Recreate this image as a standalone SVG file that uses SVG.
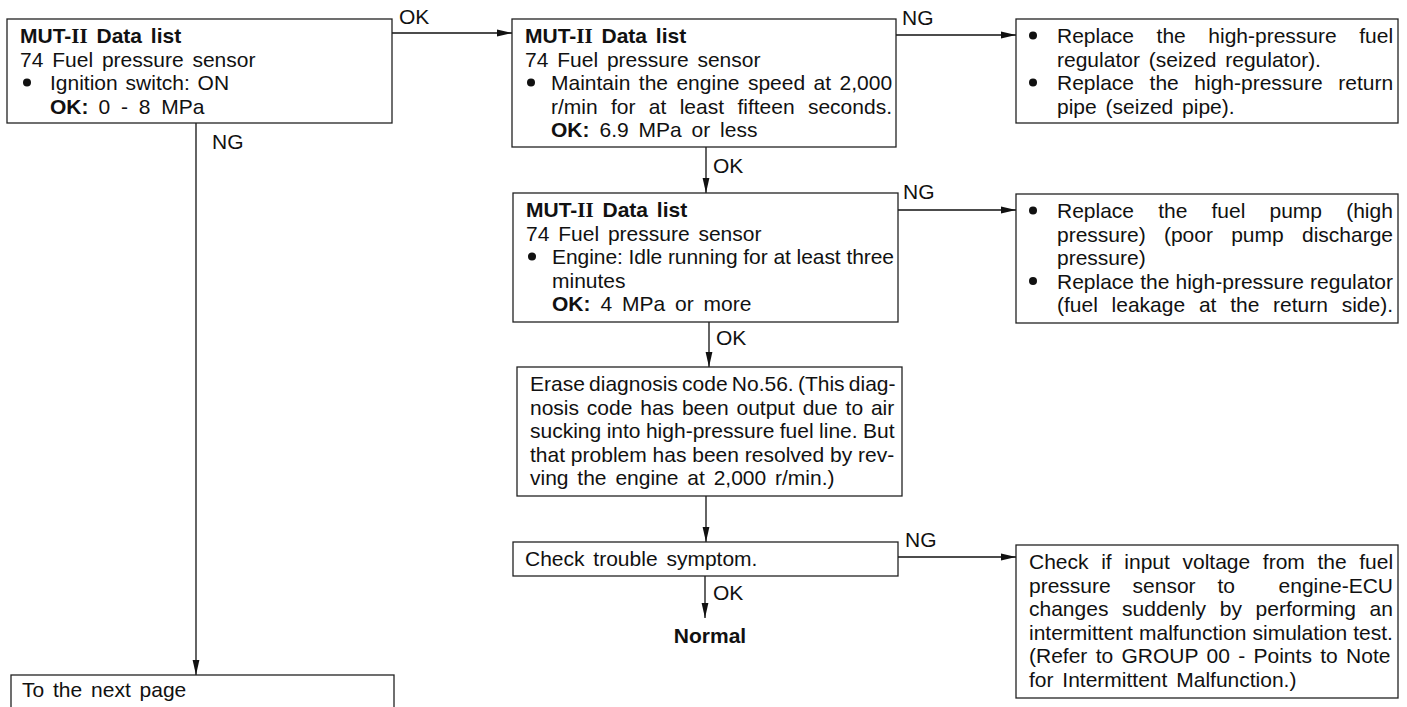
<svg xmlns="http://www.w3.org/2000/svg" width="1407" height="707" viewBox="0 0 1407 707">
<defs>
<style>
.box{fill:#fff;stroke:#222;stroke-width:1.3}
.t{font-family:"Liberation Sans",Arial,sans-serif;font-size:21px;fill:#111;word-spacing:2px}
.b{font-weight:bold}
.rn{font-family:"Liberation Serif","Times New Roman",serif;font-weight:bold}
.con{stroke:#111;stroke-width:1.3;fill:none}
.dot{fill:#111}
</style>
<marker id="ah" markerWidth="16" markerHeight="8" refX="15" refY="4" orient="auto" markerUnits="userSpaceOnUse">
<path d="M0,0.6 L15,4 L0,7.4 z" fill="#111"/>
</marker>
</defs>
<rect width="1407" height="707" fill="#fff"/>

<g id="connectors">
<line class="con" x1="392" y1="33" x2="512" y2="33" marker-end="url(#ah)"/>
<line class="con" x1="896" y1="35" x2="1016" y2="35" marker-end="url(#ah)"/>
<line class="con" x1="898" y1="210" x2="1016" y2="210" marker-end="url(#ah)"/>
<line class="con" x1="898" y1="557" x2="1016" y2="557" marker-end="url(#ah)"/>
<line class="con" x1="196" y1="123" x2="196" y2="675" marker-end="url(#ah)"/>
<line class="con" x1="706" y1="147" x2="706" y2="193" marker-end="url(#ah)"/>
<line class="con" x1="709" y1="322" x2="709" y2="367" marker-end="url(#ah)"/>
<line class="con" x1="706" y1="496" x2="706" y2="542" marker-end="url(#ah)"/>
<line class="con" x1="705" y1="576" x2="705" y2="618" marker-end="url(#ah)"/>
<text class="t" x="399" y="24">OK</text>
<text class="t" x="902" y="25">NG</text>
<text class="t" x="903" y="199">NG</text>
<text class="t" x="905" y="547">NG</text>
<text class="t" x="212" y="149">NG</text>
<text class="t" x="713" y="173">OK</text>
<text class="t" x="716" y="345">OK</text>
<text class="t" x="713" y="600">OK</text>
</g>

<g id="node-check1">
<rect class="box" x="7" y="19" width="385" height="104"/>
<text class="t b" x="20" y="43" style="word-spacing:3px">MUT-<tspan class="rn">II</tspan> Data list</text>
<text class="t" x="20" y="66.5" style="word-spacing:3px">74 Fuel pressure sensor</text>
<circle class="dot" cx="27" cy="82.5" r="4"/>
<text class="t" x="50" y="90">Ignition switch: ON</text>
<text class="t" x="50" y="113.5" style="word-spacing:5px"><tspan class="b">OK:</tspan><tspan dx="10">0 - 8 MPa</tspan></text>
</g>

<g id="node-check2">
<rect class="box" x="512" y="19" width="384" height="128"/>
<text class="t b" x="525" y="43" style="word-spacing:3px">MUT-<tspan class="rn">II</tspan> Data list</text>
<text class="t" x="525" y="66.5" style="word-spacing:3px">74 Fuel pressure sensor</text>
<circle class="dot" cx="531" cy="82.5" r="4"/>
<text class="t" x="551" y="90" style="word-spacing:2.6px">Maintain the engine speed at 2,000</text>
<text class="t" x="551" y="113.5" style="word-spacing:7.5px">r/min for at least fifteen seconds.</text>
<text class="t" x="551" y="137" style="word-spacing:4px"><tspan class="b">OK:</tspan><tspan dx="10">6.9 MPa or less</tspan></text>
</g>

<g id="node-check3">
<rect class="box" x="513" y="193" width="385" height="129"/>
<text class="t b" x="526" y="217" style="word-spacing:3px">MUT-<tspan class="rn">II</tspan> Data list</text>
<text class="t" x="526" y="240.5" style="word-spacing:3px">74 Fuel pressure sensor</text>
<circle class="dot" cx="532" cy="256.5" r="4"/>
<text class="t" x="552" y="264" style="word-spacing:0px" textLength="342" lengthAdjust="spacing">Engine: Idle running for at least three</text>
<text class="t" x="552" y="287.5">minutes</text>
<text class="t" x="552" y="311" style="word-spacing:4px"><tspan class="b">OK:</tspan><tspan dx="10">4 MPa or more</tspan></text>
</g>

<g id="node-erase">
<rect class="box" x="517" y="367" width="385" height="129"/>
<text class="t" x="530" y="391" style="word-spacing:-1.6px">Erase diagnosis code No.56. (This diag-</text>
<text class="t" x="530" y="414.5" style="word-spacing:2px">nosis code has been output due to air</text>
<text class="t" x="530" y="438" style="word-spacing:-0.4px">sucking into high-pressure fuel line. But</text>
<text class="t" x="530" y="461.5" style="word-spacing:0px">that problem has been resolved by rev-</text>
<text class="t" x="530" y="485" style="word-spacing:3px">ving the engine at 2,000 r/min.)</text>
</g>

<g id="node-symptom">
<rect class="box" x="513" y="542" width="385" height="34"/>
<text class="t" x="525" y="566" style="word-spacing:3px">Check trouble symptom.</text>
</g>

<g id="node-normal">
<text class="t b" x="710" y="643" text-anchor="middle">Normal</text>
</g>

<g id="node-replace-regulator">
<rect class="box" x="1016" y="19" width="382" height="104"/>
<circle class="dot" cx="1033" cy="35.5" r="4"/>
<text class="t" x="1057" y="43" style="word-spacing:16.7px">Replace the high-pressure fuel</text>
<text class="t" x="1057" y="66.5" style="word-spacing:3px">regulator (seized regulator).</text>
<circle class="dot" cx="1033" cy="82.5" r="4"/>
<text class="t" x="1057" y="90" style="word-spacing:9.7px">Replace the high-pressure return</text>
<text class="t" x="1057" y="113.5" style="word-spacing:3px">pipe (seized pipe).</text>
</g>

<g id="node-replace-pump">
<rect class="box" x="1016" y="194" width="382" height="129"/>
<circle class="dot" cx="1033" cy="210.5" r="4"/>
<text class="t" x="1057" y="218" style="word-spacing:18.3px">Replace the fuel pump (high</text>
<text class="t" x="1057" y="241.5" style="word-spacing:12.4px">pressure) (poor pump discharge</text>
<text class="t" x="1057" y="265">pressure)</text>
<circle class="dot" cx="1033" cy="281" r="4"/>
<text class="t" x="1057" y="288.5" style="word-spacing:0.3px">Replace the high-pressure regulator</text>
<text class="t" x="1057" y="312" style="word-spacing:7.9px">(fuel leakage at the return side).</text>
</g>

<g id="node-intermittent">
<rect class="box" x="1016" y="545" width="382" height="153"/>
<text class="t" x="1029" y="569" style="word-spacing:6.8px">Check if input voltage from the fuel</text>
<text class="t" x="1029" y="592.5" style="word-spacing:16px">pressure sensor to&#160; engine-ECU</text>
<text class="t" x="1029" y="616" style="word-spacing:7.8px">changes suddenly by performing an</text>
<text class="t" x="1029" y="639.5" style="word-spacing:0.3px">intermittent malfunction simulation test.</text>
<text class="t" x="1029" y="663" style="word-spacing:2.5px">(Refer to GROUP 00 - Points to Note</text>
<text class="t" x="1029" y="686.5" style="word-spacing:3px">for Intermittent Malfunction.)</text>
</g>

<g id="node-next-page">
<rect class="box" x="11" y="675" width="383" height="40"/>
<text class="t" x="22" y="697" style="word-spacing:3px">To the next page</text>
</g>
</svg>
